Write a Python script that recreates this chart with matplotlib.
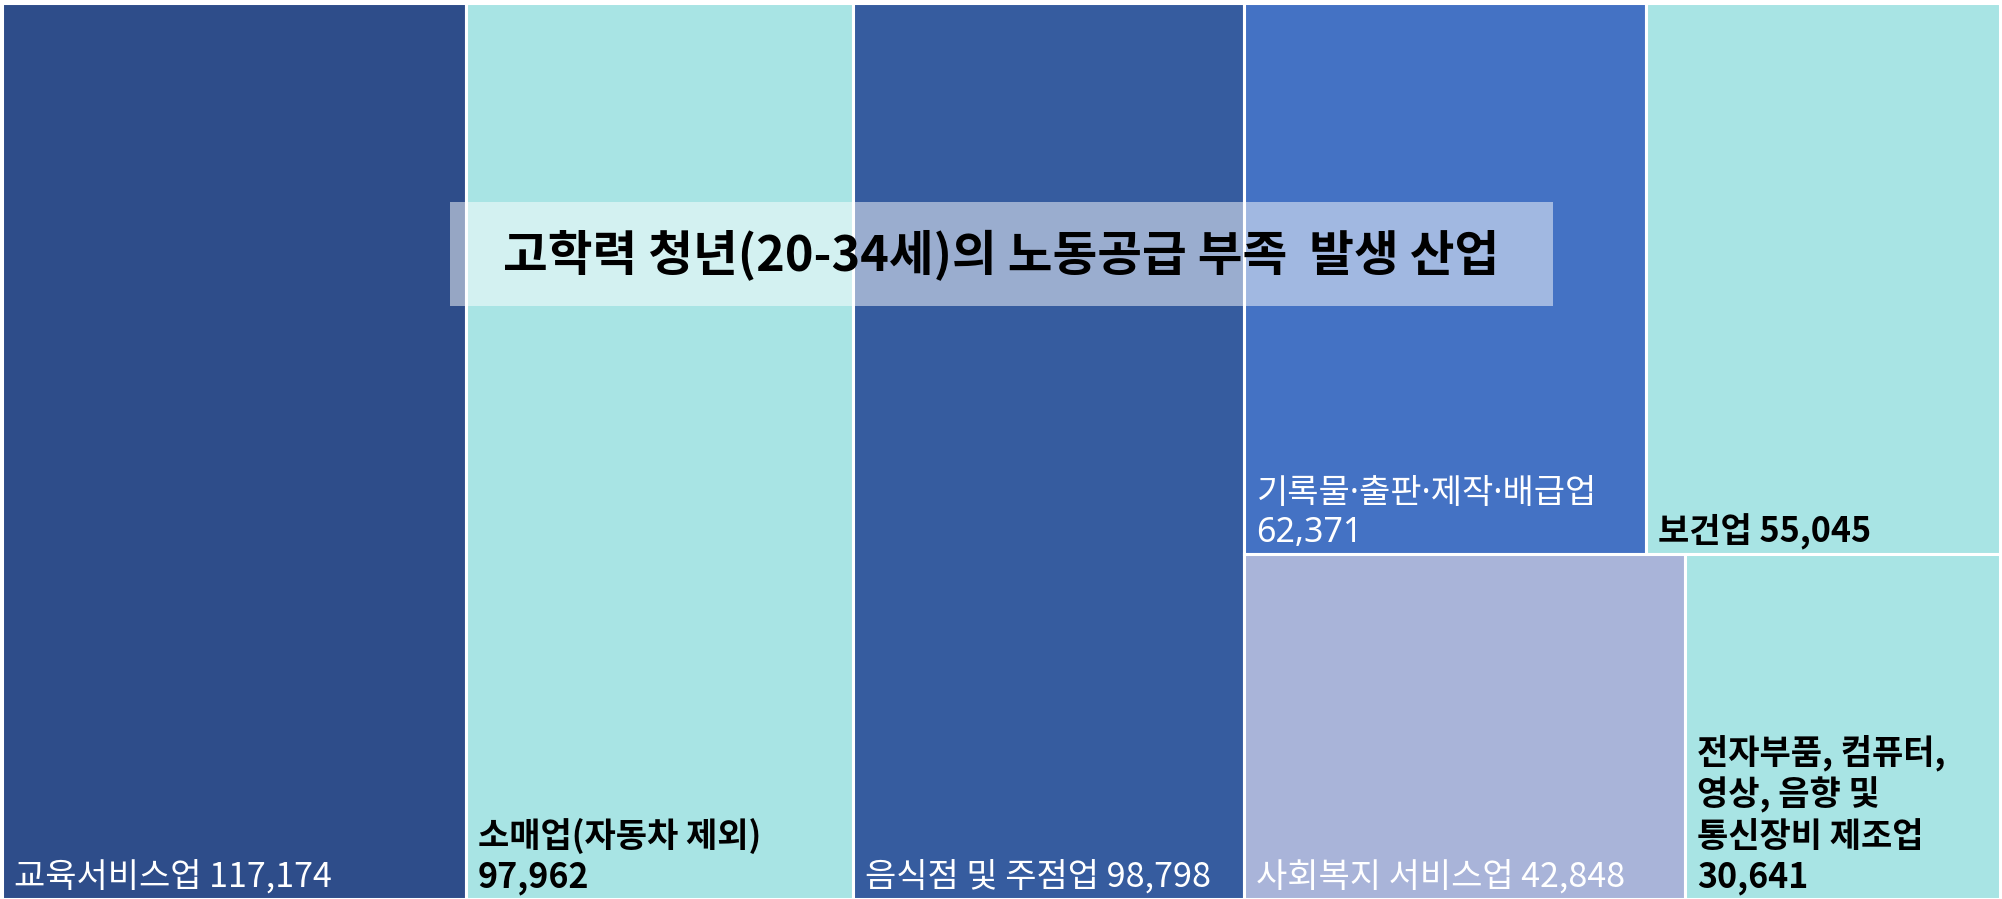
import matplotlib
matplotlib.use("Agg")
import matplotlib.pyplot as plt
from matplotlib.patches import Rectangle

plt.rcParams['font.family'] = ['Noto Sans CJK KR', 'DejaVu Sans']

# ---- data ----
names = ["교육서비스업", "소매업(자동차 제외)", "음식점 및 주점업", "기록물·출판·제작·배급업",
         "보건업", "사회복지 서비스업", "전자부품, 컴퓨터,\n영상, 음향 및\n통신장비 제조업"]
values = [117174, 97962, 98798, 62371, 55045, 42848, 30641]
label_sep = [" ", "\n", " ", "\n", " ", " ", "\n"]
colors = ["#2E4D8A", "#A8E4E4", "#365C9F", "#4472C4", "#A8E4E4", "#A9B4D9", "#A8E4E4"]
text_colors = ["white", "black", "white", "white", "black", "white", "black"]
text_weights = ["normal", "bold", "normal", "normal", "bold", "normal", "bold"]
title = "고학력 청년(20-34세)의 노동공급 부족  발생 산업"

# layout groups: columns; a column may hold rows of items
groups = [[[0]], [[1]], [[2]], [[3, 4], [5, 6]]]

W, H = 2002, 899
fig = plt.figure(figsize=(W / 100, H / 100), dpi=100)
ax = fig.add_axes([0.001, 0.0, 0.998, 0.997])
total = sum(values)
ax.set_xlim(0, total)
ax.set_ylim(0, 1)
ax.axis("off")

rects = {}
x0 = 0.0
for col in groups:
    col_sum = sum(values[i] for row in col for i in row)
    y_top = 1.0
    for row in col:
        row_sum = sum(values[i] for i in row)
        h = row_sum / col_sum
        xx = x0
        for i in row:
            w = col_sum * values[i] / row_sum
            rects[i] = (xx, y_top - h, w, h)
            xx += w
        y_top -= h
    x0 += col_sum

for i, (x, y, w, h) in rects.items():
    ax.add_patch(Rectangle((x, y), w, h, facecolor=colors[i], edgecolor="white", linewidth=2.2))
    label = f"{names[i]}{label_sep[i]}{values[i]:,}"
    fam = ['Noto Sans', 'Noto Sans CJK KR'] if "·" in names[i] else ['Noto Sans CJK KR', 'DejaVu Sans']
    ax.annotate(label, xy=(x, y), xytext=(12, 4), textcoords="offset pixels",
                ha="left", va="bottom", fontsize=24.5, color=text_colors[i],
                fontweight=text_weights[i], linespacing=1.2, family=fam)

# title box
fig.patches.append(Rectangle((450 / W, 1 - 306 / H), (1553 - 450) / W, (306 - 202) / H,
                             transform=fig.transFigure, facecolor="white", alpha=0.5,
                             edgecolor="none", zorder=5))
fig.text(0.5, 1 - 256 / H, title, ha="center", va="center", fontsize=35,
         fontweight="bold", color="black", zorder=6)

fig.savefig("out.png", dpi=100, facecolor="white")
